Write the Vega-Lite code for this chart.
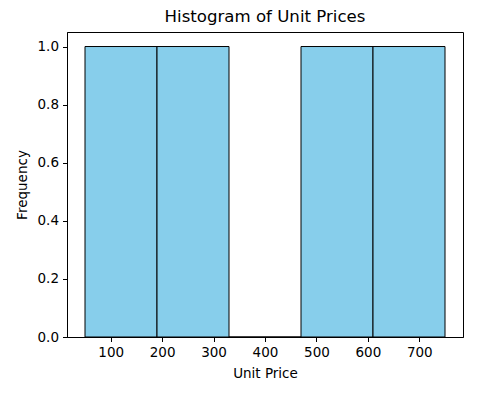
{
  "$schema": "https://vega.github.io/schema/vega-lite/v6.json",
  "width": 396,
  "height": 305,
  "autosize": {"type": "none"},
  "padding": {"left": 67, "top": 32, "right": 15, "bottom": 62},
  "background": "white",
  "title": {"text": "Histogram of Unit Prices", "fontSize": 16.6, "font": "DejaVu Sans", "fontWeight": "normal", "color": "black", "offset": 6},
  "data": {"values": [
    {"bin_start": 50, "bin_end": 190, "count": 1},
    {"bin_start": 190, "bin_end": 330, "count": 1},
    {"bin_start": 330, "bin_end": 470, "count": 0},
    {"bin_start": 470, "bin_end": 610, "count": 1},
    {"bin_start": 610, "bin_end": 750, "count": 1}
  ]},
  "mark": {"type": "bar", "fill": "#87CEEB", "stroke": "black", "strokeWidth": 1},
  "encoding": {
    "x": {"field": "bin_start", "type": "quantitative", "scale": {"domain": [15, 785], "nice": false, "zero": false},
      "axis": {"values": [100, 200, 300, 400, 500, 600, 700], "title": "Unit Price", "titlePadding": 7}},
    "x2": {"field": "bin_end"},
    "y": {"field": "count", "type": "quantitative", "scale": {"domain": [0, 1.05], "nice": false},
      "axis": {"values": [0, 0.2, 0.4, 0.6, 0.8, 1.0], "format": ".1f", "title": "Frequency", "titlePadding": 8}},
    "y2": {"datum": 0}
  },
  "config": {
    "view": {"stroke": "black", "strokeWidth": 1},
    "axis": {"grid": false, "domainColor": "black", "tickColor": "black", "labelColor": "black", "titleColor": "black",
      "labelFont": "DejaVu Sans", "titleFont": "DejaVu Sans", "labelFontSize": 13.5, "titleFontSize": 13.5,
      "titleFontWeight": "normal", "tickSize": 4.5, "labelPadding": 4, "domainWidth": 1, "tickWidth": 1}
  }
}
